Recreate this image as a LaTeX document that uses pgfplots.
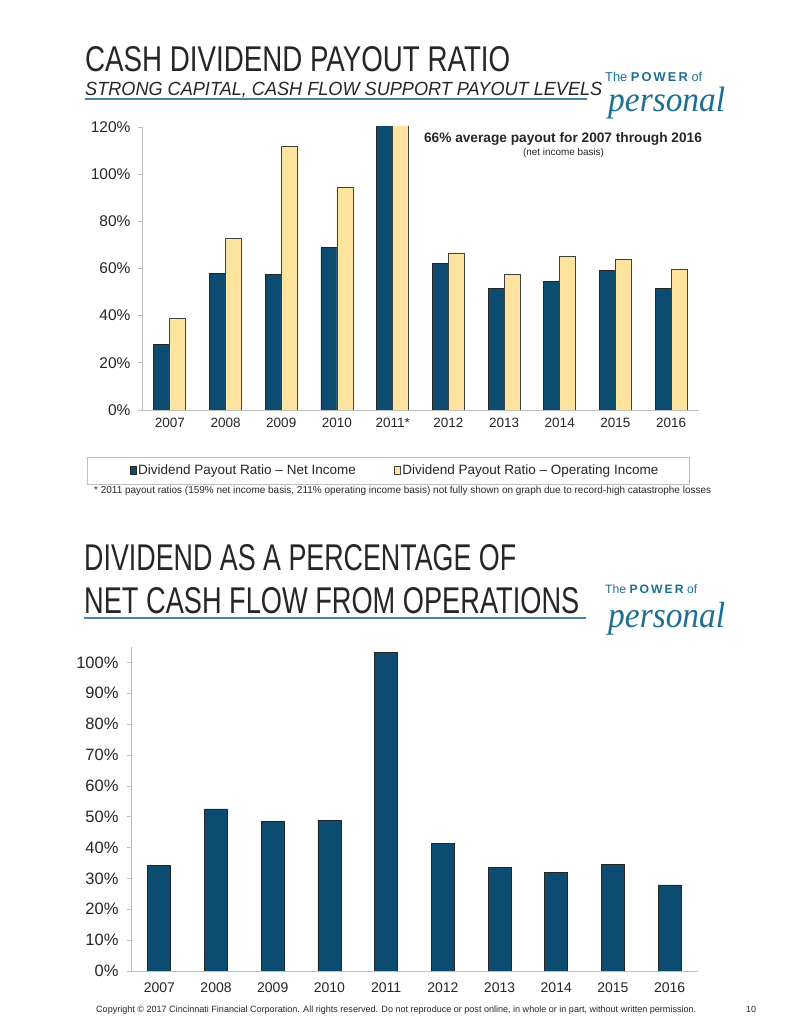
\documentclass[border=0pt]{standalone}
\usepackage{fontspec}
\setmainfont{Liberation Sans}
\newfontfamily\logoserif{Liberation Serif}
\usepackage{graphicx}
\usepackage{pgfplots}
\pgfplotsset{compat=1.18}
\definecolor{cfblue}{HTML}{0C4C70}
\definecolor{cfyellow}{HTML}{FEE49E}
\definecolor{logoblue}{HTML}{1D6F94}
\definecolor{ulblue}{HTML}{4A82A8}
\definecolor{axgray}{HTML}{BFBFBF}
\definecolor{txt}{HTML}{262626}
\pgfplotsset{
  cfbase/.style={
    scale only axis,
    axis x line*=bottom, axis y line*=left,
    axis line style={axgray, line width=0.7pt, -},
    tick align=outside,
    major tick length=4pt,
    tick style={axgray, line width=0.7pt},
    enlargelimits=false,
    xmin=-0.5, xmax=9.5,
    xtick={0,...,9},
    xtick style={draw=none},
    extra x ticks={-0.5,0.5,...,9.5},
    extra x tick labels={},
    extra x tick style={tick style={axgray, line width=0.7pt}},
    /pgf/number format/assume math mode=true,
    yticklabel={\pgfmathprintnumber{\tick}\%},
    ticklabel style={text=txt},
  }
}
\begin{document}
\begin{tikzpicture}[x=1pt,y=1pt]
\fill[white] (0,0) rectangle (799,1034);
\useasboundingbox (0,0) rectangle (799,1034);

% ---------- top titles ----------
\node[anchor=base west, inner sep=0, text=txt] at (85,962) {\resizebox{425pt}{25pt}{CASH DIVIDEND PAYOUT RATIO}};
\node[anchor=base west, inner sep=0, text=txt] at (85,938) {\resizebox{517pt}{13.3pt}{\itshape STRONG CAPITAL, CASH FLOW SUPPORT PAYOUT LEVELS}};
\draw[ulblue, line width=1.3pt] (85,935) -- (587,935);
\node[anchor=base west, inner sep=0, text=logoblue] at (605,952) {\resizebox{97pt}{!}{\fontsize{10}{12}\selectfont The \textbf{P\,O\,W\,E\,R} of}};
\node[anchor=base west, inner sep=0, text=logoblue] at (608,922) {\resizebox*{117pt}{32pt}{\logoserif\itshape personal}};

% ---------- top chart ----------
\begin{axis}[cfbase,
  at={(142pt,624pt)}, anchor=south west,
  width=557pt, height=283pt,
  ymin=0, ymax=120, ytick={0,20,...,120},
  ybar=0pt, bar width=16pt,
  xticklabels={2007,2008,2009,2010,2011*,2012,2013,2014,2015,2016},
  xticklabel style={font=\fontsize{13.5}{16}\selectfont, yshift=-1pt},
  yticklabel style={font=\fontsize{15.5}{18}\selectfont, xshift=-4pt},
  legend columns=2,
  legend style={at={(-0.028,-0.214)}, anchor=west, draw=none, fill=none,
    font=\fontsize{13.5}{16}\selectfont, text=txt,
    /tikz/every even column/.append style={column sep=36pt}},
  legend image code/.code={\draw[#1, line width=0.6pt] (0pt,-3.5pt) rectangle (6pt,4pt);},
]
\addplot[fill=cfblue, draw=black!85, line width=0.8pt] coordinates {
  (0,27.7) (1,57.9) (2,57.3) (3,68.9) (4,159) (5,62.1) (6,51.6) (7,54.5) (8,59.1) (9,51.4)};
\addlegendentry{Dividend Payout Ratio – Net Income}
\addplot[fill=cfyellow, draw=black!75, line width=0.8pt] coordinates {
  (0,39.0) (1,72.6) (2,111.6) (3,94.5) (4,211) (5,66.6) (6,57.6) (7,65.2) (8,63.7) (9,59.6)};
\addlegendentry{Dividend Payout Ratio – Operating Income}
\end{axis}

\node[anchor=base, inner sep=0, text=txt, font=\bfseries\fontsize{13.7}{16}\selectfont] at (563,891) {66\% average payout for 2007 through 2016};
\node[anchor=base, inner sep=0, text=txt, font=\fontsize{9.9}{12}\selectfont] at (563.5,878) {(net income basis)};

\draw[axgray, line width=0.8pt] (87,550) rectangle (689,577);
\node[anchor=base west, inner sep=0, text=txt] at (94,540) {\resizebox{617pt}{7.3pt}{* 2011 payout ratios (159\% net income basis, 211\% operating income basis) not fully shown on graph due to record-high catastrophe losses}};

% ---------- bottom titles ----------
\node[anchor=base west, inner sep=0, text=txt] at (84,463) {\resizebox{432pt}{26pt}{DIVIDEND AS A PERCENTAGE OF}};
\node[anchor=base west, inner sep=0, text=txt] at (84,420) {\resizebox{495pt}{26pt}{NET CASH FLOW FROM OPERATIONS}};
\draw[ulblue, line width=1.3pt] (84,416) -- (586,416);
\node[anchor=base west, inner sep=0, text=logoblue] at (605,440) {\resizebox{92pt}{!}{\fontsize{10}{12}\selectfont The \textbf{P\,O\,W\,E\,R} of}};
\node[anchor=base west, inner sep=0, text=logoblue] at (608,406) {\resizebox*{117pt}{33pt}{\logoserif\itshape personal}};

% ---------- bottom chart ----------
\begin{axis}[cfbase,
  at={(131pt,63pt)}, anchor=south west,
  width=567pt, height=324pt,
  ymin=0, ymax=105, ytick={0,10,...,100},
  ybar, bar width=23pt,
  xticklabels={2007,2008,2009,2010,2011,2012,2013,2014,2015,2016},
  xticklabel style={font=\fontsize{14}{16}\selectfont, yshift=-4pt},
  yticklabel style={font=\fontsize{16.5}{19}\selectfont, xshift=-5pt},
]
\addplot[fill=cfblue, draw=black!85, line width=0.8pt] coordinates {
  (0,34.2) (1,52.5) (2,48.6) (3,48.8) (4,103.1) (5,41.4) (6,33.5) (7,32.0) (8,34.6) (9,27.9)};
\end{axis}

\node[anchor=base west, inner sep=0, text=txt] at (96,21) {\resizebox{600pt}{6.6pt}{Copyright © 2017 Cincinnati Financial Corporation. All rights reserved. Do not reproduce or post online, in whole or in part, without written permission.}};
\node[anchor=base west, inner sep=0, text=txt, font=\fontsize{9}{11}\selectfont] at (746,21) {10};
\end{tikzpicture}
\end{document}
